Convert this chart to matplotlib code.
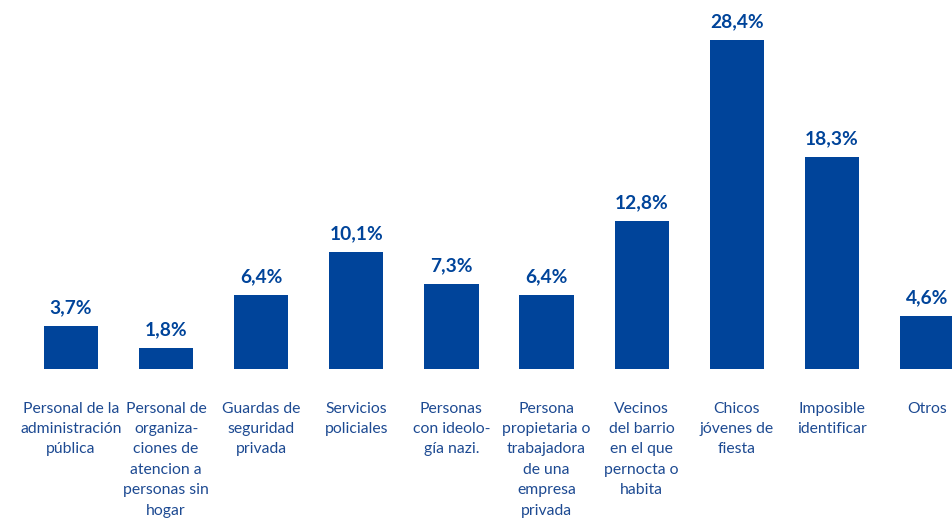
import matplotlib
matplotlib.use("Agg")
import matplotlib.pyplot as plt

categories = [
    "Personal de la\nadministración\npública",
    "Personal de\norganiza-\nciones de\natencion a\npersonas sin\nhogar",
    "Guardas de\nseguridad\nprivada",
    "Servicios\npoliciales",
    "Personas\ncon ideolo-\ngía nazi.",
    "Persona\npropietaria o\ntrabajadora\nde una\nempresa\nprivada",
    "Vecinos\ndel barrio\nen el que\npernocta o\nhabita",
    "Chicos\njóvenes de\nfiesta",
    "Imposible\nidentificar",
    "Otros",
]
values = [3.7, 1.8, 6.4, 10.1, 7.3, 6.4, 12.8, 28.4, 18.3, 4.6]
labels = ["3,7%", "1,8%", "6,4%", "10,1%", "7,3%", "6,4%", "12,8%", "28,4%", "18,3%", "4,6%"]

blue = "#00449a"
text_blue = "#1d4a92"

fig = plt.figure(figsize=(9.53, 5.2), dpi=100)
ax = fig.add_axes([0, 0.2904, 1, 0.7096])

x = list(range(len(values)))
ax.bar(x, values, width=0.57, color=blue)

for xi, v, lab, cat in zip(x, values, labels, categories):
    ax.annotate(lab, (xi, v), xytext=(0, 7), textcoords="offset points",
                ha="center", va="bottom", fontsize=13.8, fontweight="bold",
                color=blue, family="Lato")
    ax.annotate(cat, (xi, 0), xytext=(0, -23.5), textcoords="offset points",
                ha="center", va="top", fontsize=11.3, color=text_blue,
                family="Lato", linespacing=1.58)

ax.set_xlim(-0.746, 9.273)
ax.set_ylim(0, 31.86)
ax.axis("off")

fig.savefig("out.png", dpi=100)
